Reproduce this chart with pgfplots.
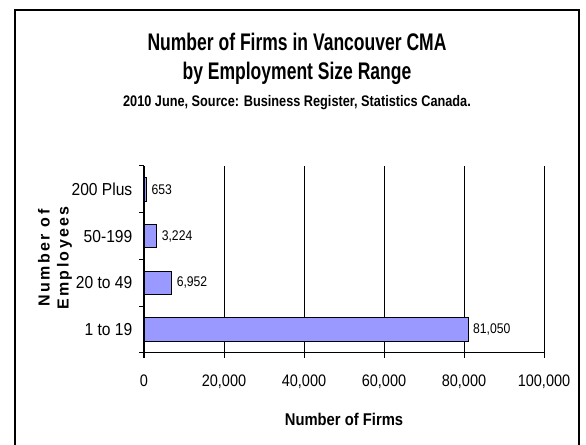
\documentclass[border=0pt]{standalone}
\usepackage{pgfplots}
\pgfplotsset{compat=1.18}
\usepackage{fontspec}
\setmainfont{Liberation Sans}
\newfontfamily\nar{Liberation Sans}[FakeStretch=0.87]
\newfontfamily\naryt{Liberation Sans}[FakeStretch=0.9]
\newfontfamily\nartitle{Liberation Sans}[FakeStretch=0.73]
\newfontfamily\narsub{Liberation Sans}[FakeStretch=0.83]
\newfontfamily\spaced{Liberation Sans}[LetterSpace=15]
\definecolor{barfill}{HTML}{9999FF}
\begin{document}
\begin{tikzpicture}[x=0.75pt,y=0.75pt]
\path[use as bounding box] (0,0) rectangle (586,445);
\draw[line width=1.1pt] (15,-2) -- (15,435) -- (579,435) -- (579,-2);
\node[font=\nartitle\bfseries\fontsize{18}{20}\selectfont] at (297,403) {Number of Firms in Vancouver CMA};
\node[font=\nartitle\bfseries\fontsize{18}{20}\selectfont] at (297,372) {by Employment Size Range};
\node[font=\narsub\bfseries\fontsize{11.5}{13}\selectfont] at (297,342) {2010 June, Source: Business Register, Statistics Canada.};
\node[rotate=90, align=center, font=\spaced\bfseries\fontsize{12}{14.25}\selectfont] at (55,187) {Number of\\Employees};
\begin{axis}[
  at={(108pt,69pt)}, anchor=south west,
  scale only axis, width=300pt, height=140.25pt,
  xbar, bar width=0.5,
  xmin=0, xmax=100000, ymin=-0.5, ymax=3.5,
  axis x line*=bottom, axis y line*=left, axis line style={-, line width=0.75pt, black},
  xmajorgrids, grid style={black, line width=0.75pt},
  xtick={0,20000,40000,60000,80000,100000},
  scaled x ticks=false,
  /pgf/number format/fixed,
  /pgf/number format/precision=0,
  /pgf/number format/1000 sep={,},
  /pgf/number format/assume math mode=true,
  tick align=outside,
  major tick length=3.75pt, minor tick length=3.75pt,
  x tick style={black, line width=0.75pt},
  ytick={0,1,2,3},
  yticklabels={1 to 19\hspace{5pt}, 20 to 49, 50-199, 200 Plus},
  major y tick style={draw=none},
  minor ytick={-0.5,0.5,1.5,2.5,3.5},
  minor y tick style={black, line width=0.75pt},
  xticklabel style={font=\nar\fontsize{12.5}{14}\selectfont, yshift=-9pt},
  yticklabel style={font=\naryt\fontsize{13}{15}\selectfont, xshift=-1.5pt},
  xlabel={Number of Firms},
  xlabel style={at={(axis description cs:0.5,0)}, anchor=center, yshift=-49.5pt, font=\nar\bfseries\fontsize{12.75}{14}\selectfont},
  nodes near coords,
  point meta=x,
  every node near coord/.append style={font=\nar\fontsize{10.5}{12}\selectfont, black, /pgf/number format/fixed, /pgf/number format/precision=0, /pgf/number format/1000 sep={,}, /pgf/number format/assume math mode=true},
]
\addplot[fill=barfill, draw=black, line width=0.75pt] coordinates {(81050,0) (6952,1) (3224,2) (653,3)};
\end{axis}
\end{tikzpicture}
\end{document}
